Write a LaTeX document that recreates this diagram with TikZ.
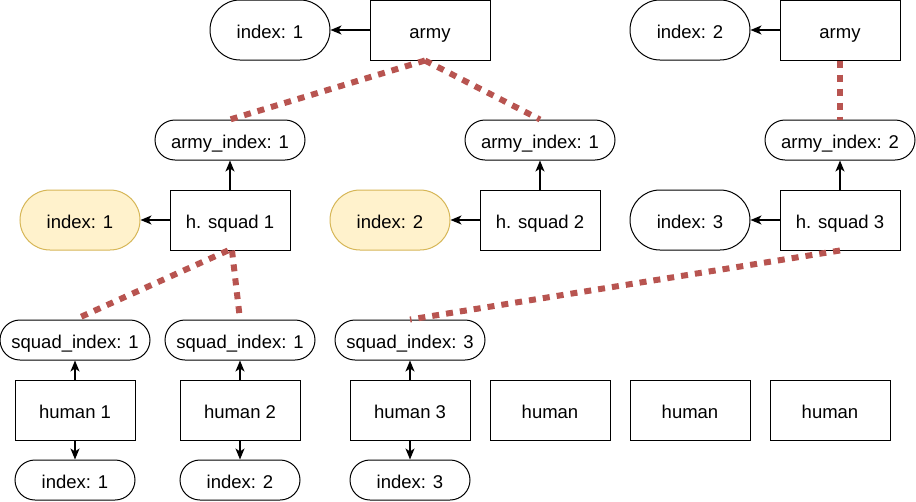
\documentclass[tikz,border=0pt]{standalone}
\usepackage{fontspec}
\setmainfont{Liberation Sans}
\usepackage{xcolor}
\usepackage{tikz}
\usetikzlibrary{arrows.meta}
\usetikzlibrary{shapes}

\definecolor{linkred}{HTML}{B85450}
\definecolor{notefill}{HTML}{FFF2CC}
\definecolor{notedraw}{HTML}{D6B656}

\begin{document}
\begin{tikzpicture}[x = 1pt, y = -1pt,
        every node/.style = {font = \fontsize{18.5}{21}\selectfont, text height = 17pt, text depth = 1pt},
        entity/.style = {draw, line width = 1pt, minimum width = 120pt, minimum height = 60pt, inner sep = 0pt},
        tag/.style = {draw, line width = 1pt, rounded corners = 30pt, minimum width = 120pt, minimum height = 60pt, inner sep = 0pt},
        note/.style = {tag, draw = notedraw, fill = notefill},
        field/.style = {draw, line width = 1pt, rounded corners = 20pt, minimum height = 40pt, inner sep = 0pt},
        link/.style = {line width = 1.5pt, -{Stealth[length = 11pt, width = 9pt, inset = 3pt]}},
        ref/.style = {draw = linkred, line width = 6pt, dash pattern = on 7pt off 7pt}]
        \useasboundingbox (0, 0) rectangle (916, 501);

        % armies
        \node [tag] (armyidx1) at (270, 30) {index: 1};
        \node [entity] (army1) at (430, 30) {army};
        \node [tag] (armyidx2) at (690, 30) {index: 2};
        \node [entity] (army2) at (840, 30) {army};

        % squads
        \node [field, minimum width = 150pt] (aidx1) at (230, 140) {army\_index: 1};
        \node [field, minimum width = 150pt] (aidx2) at (540, 140) {army\_index: 1};
        \node [field, minimum width = 150pt] (aidx3) at (840, 140) {army\_index: 2};

        \node [note] (squadidx1) at (80, 220) {index: 1};
        \node [entity] (squad1) at (230, 220) {h. squad 1};
        \node [note] (squadidx2) at (390, 220) {index: 2};
        \node [entity] (squad2) at (540, 220) {h. squad 2};
        \node [tag] (squadidx3) at (690, 220) {index: 3};
        \node [entity] (squad3) at (840, 220) {h. squad 3};

        % humans
        \node [field, minimum width = 150pt] (sidx1) at (75, 340) {squad\_index: 1};
        \node [field, minimum width = 150pt] (sidx2) at (240, 340) {squad\_index: 1};
        \node [field, minimum width = 150pt] (sidx3) at (410, 340) {squad\_index: 3};

        \node [entity] (human1) at (75, 410) {human 1};
        \node [entity] (human2) at (240, 410) {human 2};
        \node [entity] (human3) at (410, 410) {human 3};
        \node [entity] (human4) at (550, 410) {human};
        \node [entity] (human5) at (690, 410) {human};
        \node [entity] (human6) at (830, 410) {human};

        \node [field, minimum width = 120pt] (hidx1) at (75, 480) {index: 1};
        \node [field, minimum width = 120pt] (hidx2) at (240, 480) {index: 2};
        \node [field, minimum width = 120pt] (hidx3) at (410, 480) {index: 3};

        % arrows
        \draw [link] (army1) -- (armyidx1);
        \draw [link] (army2) -- (armyidx2);
        \draw [link] (squad1) -- (aidx1);
        \draw [link] (squad2) -- (aidx2);
        \draw [link] (squad3) -- (aidx3);
        \draw [link] (squad1) -- (squadidx1);
        \draw [link] (squad2) -- (squadidx2);
        \draw [link] (squad3) -- (squadidx3);
        \draw [link] (human1) -- (sidx1);
        \draw [link] (human2) -- (sidx2);
        \draw [link] (human3) -- (sidx3);
        \draw [link] (human1) -- (hidx1);
        \draw [link] (human2) -- (hidx2);
        \draw [link] (human3) -- (hidx3);

        % references
        \draw [ref] ([xshift = -5pt]army1.south) -- (aidx1.north);
        \draw [ref] ([xshift = -5pt]army1.south) -- (aidx2.north);
        \draw [ref] (army2.south) -- (aidx3.north);
        \draw [ref] ([xshift = -2pt]squad1.south) -- (sidx1.north);
        \draw [ref] ([xshift = 2pt]squad1.south) -- (sidx2.north);
        \draw [ref] (squad3.south) -- (sidx3.north);
\end{tikzpicture}
\end{document}
